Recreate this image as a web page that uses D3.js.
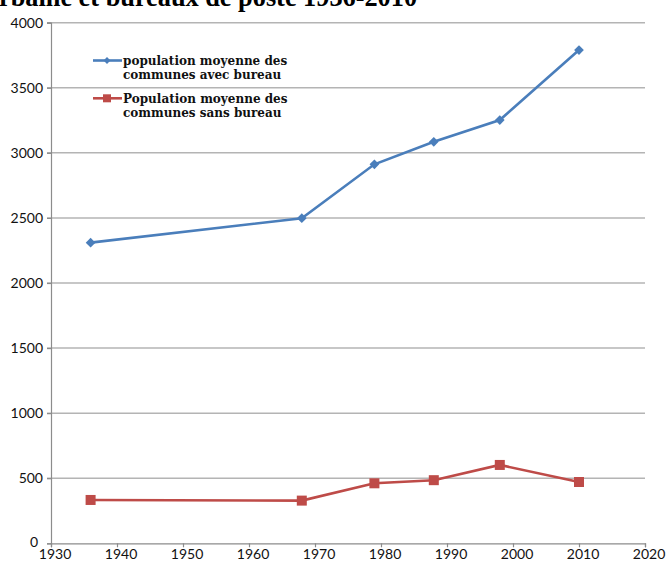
<!DOCTYPE html>
<html>
<head>
<meta charset="utf-8">
<script src="https://cdn.jsdelivr.net/npm/d3@7"></script>
<style>
  body { margin: 0; background: #fff; }
  svg { display: block; }
</style>
</head>
<body>
<svg id="chart"></svg>
<script>
const years = [1936, 1968, 1979, 1988, 1998, 2010];
const avecBureau = [2310, 2498, 2912, 3085, 3252, 3790];
const sansBureau = [333, 328, 461, 485, 602, 471];
const xTicks = [1930, 1940, 1950, 1960, 1970, 1980, 1990, 2000, 2010, 2020];
const yTicks = [0, 500, 1000, 1500, 2000, 2500, 3000, 3500, 4000];
const seriesNames = [
  ["population moyenne des", "communes avec bureau"],
  ["Population moyenne des", "communes sans bureau"]
];

const width = 667;
const height = 563;
const margin = {top: 22.7, right: 22, bottom: 19.7, left: 51};
const blue = "#4a7ebb";
const red = "#be4b48";

const svg = d3.select("#chart")
    .attr("width", width)
    .attr("height", height);

const x = d3.scaleLinear()
    .domain([1930, 2020])
    .range([margin.left, width - margin.right]);

const y = d3.scaleLinear()
    .domain([0, 4000])
    .range([height - margin.bottom, margin.top]);

// title, cut off at the top like the source
svg.append("text")
    .attr("x", -1)
    .attr("y", 6)
    .style("font-family", "'Liberation Serif', serif")
    .style("font-weight", "bold")
    .style("font-size", "26.3px")
    .attr("fill", "#000")
    .text("rbaine et bureaux de poste 1936-2010");

// gridlines
svg.append("g")
  .selectAll("line")
  .data(yTicks.slice(1))
  .enter()
  .append("line")
    .attr("x1", margin.left - 4)
    .attr("x2", width - margin.right)
    .attr("y1", d => y(d))
    .attr("y2", d => y(d))
    .attr("stroke", "#b4b4b4")
    .attr("stroke-width", 1.5);

const yAxis = d3.axisLeft(y)
    .tickValues(yTicks)
    .tickSize(4)
    .tickPadding(4)
    .tickFormat(d3.format("d"));

const xAxis = d3.axisBottom(x)
    .tickValues(xTicks)
    .tickSize(4)
    .tickPadding(2)
    .tickFormat(d3.format("d"));

const gy = svg.append("g")
    .attr("transform", `translate(${margin.left},0)`)
    .call(yAxis);

const gx = svg.append("g")
    .attr("transform", `translate(0,${height - margin.bottom})`)
    .call(xAxis);

[gx, gy].forEach(g => {
  g.select(".domain").attr("stroke", "#8c8c8c").attr("stroke-width", 1.2);
  g.selectAll(".tick line").attr("stroke", "#8c8c8c").attr("stroke-width", 1.2);
  g.selectAll("text")
      .style("font-family", "Lato, sans-serif")
      .style("font-size", "14px")
      .attr("fill", "#111");
});
gx.selectAll("text").attr("dx", "3.5");
gy.selectAll("text").filter(d => d === 0).attr("dx", "-5").attr("dy", "0.25em");

const line = d3.line()
    .x((d, i) => x(years[i]))
    .y(d => y(d));

// series: avec bureau
svg.append("path")
    .datum(avecBureau)
    .attr("fill", "none")
    .attr("stroke", blue)
    .attr("stroke-width", 2.6)
    .attr("d", line);

svg.append("g")
  .selectAll("path")
  .data(avecBureau)
  .enter()
  .append("path")
    .attr("d", d3.symbol().type(d3.symbolDiamond2).size(60))
    .attr("transform", (d, i) => `translate(${x(years[i])},${y(d)})`)
    .attr("fill", blue);

// series: sans bureau
svg.append("path")
    .datum(sansBureau)
    .attr("fill", "none")
    .attr("stroke", red)
    .attr("stroke-width", 2.6)
    .attr("d", line);

svg.append("g")
  .selectAll("rect")
  .data(sansBureau)
  .enter()
  .append("rect")
    .attr("x", (d, i) => x(years[i]) - 5)
    .attr("y", d => y(d) - 5)
    .attr("width", 10)
    .attr("height", 10)
    .attr("fill", red);

// legend
const legend = svg.append("g");
const legendY = [60.5, 98.3];
const colors = [blue, red];

seriesNames.forEach((lines, i) => {
  const g = legend.append("g").attr("transform", `translate(93,${legendY[i]})`);
  g.append("line")
      .attr("x1", 0)
      .attr("x2", 29)
      .attr("stroke", colors[i])
      .attr("stroke-width", 2.6);
  if (i === 0) {
    g.append("path")
        .attr("d", d3.symbol().type(d3.symbolDiamond2).size(30))
        .attr("transform", "translate(14,0)")
        .attr("fill", colors[i]);
  } else {
    g.append("rect")
        .attr("x", 10).attr("y", -4)
        .attr("width", 8).attr("height", 8)
        .attr("fill", colors[i]);
  }
  g.append("text")
      .attr("x", 30)
      .attr("y", 4.5)
      .style("font-family", "'DejaVu Serif', serif")
      .style("font-weight", "bold")
      .style("font-size", "12px")
      .attr("fill", "#111")
    .selectAll("tspan")
    .data(lines)
    .enter()
    .append("tspan")
      .attr("x", 30)
      .attr("dy", (d, j) => j === 0 ? 0 : 14)
      .text(d => d);
});
</script>
</body>
</html>
